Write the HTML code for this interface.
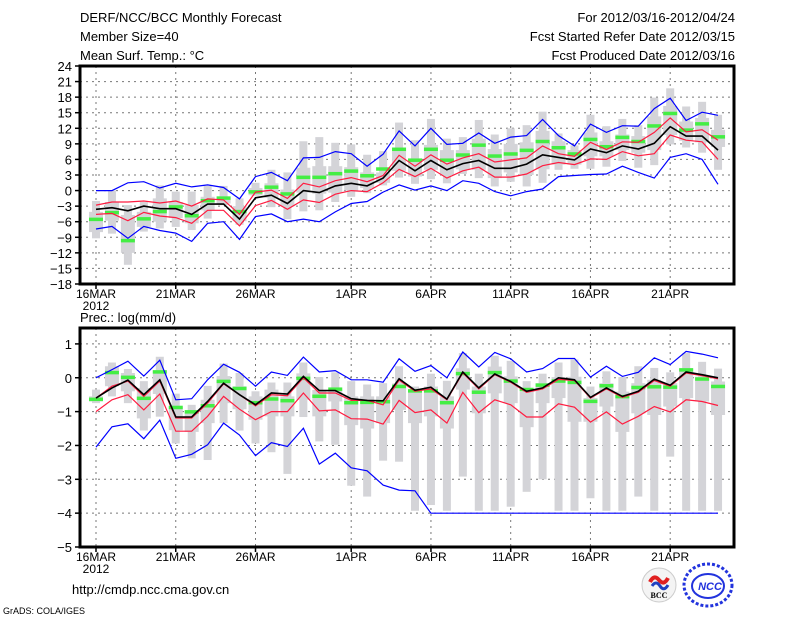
<!DOCTYPE html>
<html><head><meta charset="utf-8"><style>
html,body{margin:0;padding:0;background:#fff;}
svg{display:block;font-family:"Liberation Sans",sans-serif;}
</style></head><body>
<svg id="chart" width="800" height="618" xmlns="http://www.w3.org/2000/svg">
<rect width="800" height="618" fill="#fff"/>
<g font-size="13" fill="#000">
<text x="80" y="22">DERF/NCC/BCC Monthly Forecast</text>
<text x="80" y="41">Member Size=40</text>
<text x="80" y="60">Mean Surf. Temp.: °C</text>
<text x="735" y="22" text-anchor="end">For 2012/03/16-2012/04/24</text>
<text x="735" y="41" text-anchor="end">Fcst Started Refer Date 2012/03/15</text>
<text x="735" y="60" text-anchor="end">Fcst Produced Date 2012/03/16</text>
<text x="80" y="322">Prec.: log(mm/d)</text>
<text x="72" y="594">http://cmdp.ncc.cma.gov.cn</text>
<text x="3" y="614" font-size="9">GrADS: COLA/IGES</text>
</g>
<g>
<circle cx="659" cy="585" r="17" fill="#f4f4f4" stroke="#ccc"/>
<path d="M650 582 q4 -8 9 -2 q5 6 9 -2" stroke="#e02020" stroke-width="4" fill="none"/>
<path d="M652 586 q4 -6 8 0 q4 6 8 -1" stroke="#2040c0" stroke-width="3" fill="none"/>
<text x="659" y="598" font-size="8" text-anchor="middle" font-family="Liberation Serif" font-weight="bold">BCC</text>
</g>
<g>
<ellipse cx="708" cy="585" rx="24" ry="21" fill="none" stroke="#2233dd" stroke-width="3" stroke-dasharray="3 2"/>
<ellipse cx="708" cy="586" rx="16" ry="12" fill="none" stroke="#2233dd" stroke-width="2"/>
<text x="710" y="590" font-size="11" text-anchor="middle" font-weight="bold" fill="#2233dd" font-style="italic">NCC</text>
</g>
<g id="top"></g>
<g id="bot"></g>
</svg>
<script>
// ---- Top panel data (temperature, °C), days 16MAR..24APR ----
const tWMax=[-2,0,-2.8,-2.2,1,-0.2,-0.2,0.9,0.9,-1.5,1.5,4,3.5,9.5,10.3,9.2,8.9,6.9,7.6,13.1,9.7,13.8,10,10.3,13.6,10.8,12,12.6,15.2,11,8.7,14.6,12.4,13.8,12.6,17.9,19.7,16.2,17.1,14.6];
const tWMin=[-9.2,-8.3,-14.3,-7.9,-7.3,-7,-7.6,-5.4,-2.8,-6.6,-1,-3.2,-5.5,-4,-3.8,-2.2,-1.2,-0.5,1,2.5,1.3,2.2,1.4,3.2,2.4,0.8,1.7,0.8,1.5,4,4.2,4.2,4.6,5.7,4.4,4.9,8.9,8.3,7.3,4];
const tQ3=[-4.1,-2.2,-4.7,-4.1,-1.5,-2.2,-2.8,-1.2,-1.5,-3,0.5,1.4,0.2,4.4,4.7,4.7,4.5,3.5,3.5,8.3,6.2,8.8,7.8,7.8,10,8,9,9.3,11.5,9.5,7.8,11.2,9.5,10.8,10.5,14.3,16.3,13.3,14,11.7];
const tQ1=[-8,-5.8,-12,-7,-6,-5.3,-6.3,-3.8,-2.5,-5.9,-0.9,-1.4,-3,-0.4,-0.6,-0.4,0,0.5,1.5,3.8,2.7,4,3,4.1,4,2.4,3.5,3,4.1,5,5,6.6,6.6,7.8,7.3,7.8,10.7,9.6,9.3,8.4];
const tGreen=[-5.5,-4.2,-9.6,-5.4,-4,-3.1,-4.8,-1.9,-1.4,-4,-0.2,0.7,-0.6,2.6,2.6,3.3,3.8,2.9,4.2,8,5.9,8,5.9,6.9,8.8,6.7,7.1,7.8,9.5,8.3,7.1,9.9,8.5,10.3,9.5,12.5,14.9,11.7,12.9,10.4];
const tBlack=[-3.6,-3.3,-3.9,-3,-3.5,-3.5,-4.6,-2.6,-2.6,-5.5,-1.4,-0.9,-2.5,0,-0.4,0.9,1.4,0.9,2.4,5.8,3.8,5.8,4,5.2,5.8,4.3,4.3,5.1,6.9,6.4,5.9,8,7.3,8.6,8,9.1,12.3,10.5,10.5,7.8];
const tRedHi=[-2.8,-2.2,-2.2,-2,-2.4,-2,-3,-1.6,-1.8,-4.6,-0.3,0.1,-1.5,1.4,0.7,1.9,2.5,1.7,2.9,6.8,4.7,6.9,5.1,6.3,7.1,5.5,5.9,6.3,8.6,7.1,6.6,9.3,7.9,9.4,9.3,11.2,14,11.3,11.7,9.7];
const tRedLo=[-4.6,-4.4,-5.8,-4.2,-4.9,-5.2,-6.3,-3.8,-3.8,-6.8,-2.9,-1.9,-3.6,-1.8,-2.3,-0.7,0,-0.2,1.5,4.1,2.7,4.3,2.4,3.8,4.5,2.6,2.6,3.2,4.8,5.4,5,6.1,6,7.5,6.7,7.1,10.7,9.7,9.4,6];
const tBlueHi=[0,0,1.5,1.7,0.5,1.4,0.7,1.1,0.6,-1.6,2.7,3.5,1.9,6.3,6.4,7.5,7.1,4.7,7,11.5,8.6,12,8.9,9.1,11.1,9.1,10.3,10.6,13.7,10.6,8.6,12.8,11.2,12.5,12.4,15.8,17.8,13.5,15.1,14.5];
const tBlueLo=[-7.4,-6.9,-9.2,-6.9,-7.7,-8.2,-9.8,-6.3,-6,-9.4,-5,-4.5,-6,-5.5,-6,-4.1,-2.5,-2.1,-0.3,1.1,0.1,0.9,0,1.9,1.4,-0.2,-1,-0.2,0.3,2.7,2.9,3.1,3.2,4.7,3.5,2.4,6.4,7.1,6,1.2];
const tTicks=[24,21,18,15,12,9,6,3,0,-3,-6,-9,-12,-15,-18];
// ---- Bottom panel data (precip, log mm/d) ----
const bWMax=[-0.35,0.45,0.26,-0.1,0.62,-0.47,-0.8,-0.24,0.42,0.14,-0.4,-0.14,-0.14,0.45,0.02,0.16,-0.1,-0.2,-0.16,0.34,-0.26,0.12,-0.09,0.73,0.12,0.65,0.5,-0.1,0.12,0.45,0.54,-0.26,0.19,0.02,0.34,0.29,0.16,0.73,0.47,0.27];
const bWMin=[-0.75,-0.55,-0.75,-1.56,-1.15,-1.94,-2.38,-2.43,-1.34,-1.56,-1.94,-2.2,-2.84,-1.16,-1.88,-1.98,-3.19,-3.51,-2.45,-2.48,-3.93,-3.76,-3.93,-2.92,-3.93,-3.93,-3.81,-3.37,-3,-3.93,-3.93,-3.56,-3.93,-3.93,-3.51,-3.93,-2.33,-3.93,-3.93,-3.93];
const bQ3=[-0.55,0.34,0.14,-0.3,0.22,-0.85,-1.05,-0.65,0.05,-0.25,-0.55,-0.35,-0.55,0.13,-0.36,-0.36,-0.55,-0.55,-0.55,-0.17,-0.35,-0.26,-0.55,0.28,-0.26,0.33,0.04,-0.41,-0.16,0.02,0.03,-0.6,-0.16,-0.41,-0.16,-0.06,-0.16,0.28,0.03,-0.11];
const bQ1=[-0.7,-0.25,-0.4,-1.2,-0.48,-1.55,-1.6,-1.34,-0.75,-0.93,-1.24,-1.14,-1.14,-0.65,-1.14,-0.7,-1.4,-1.5,-1.34,-0.95,-1.34,-1.14,-1.5,-0.35,-1.05,-0.46,-0.75,-1.46,-0.75,-0.6,-1.3,-1.3,-0.85,-1.6,-1.05,-1.1,-0.85,-0.6,-0.7,-1.1];
const bGreen=[-0.63,0.16,0.02,-0.6,0.18,-0.87,-1,-0.82,-0.1,-0.31,-0.73,-0.62,-0.67,-0.01,-0.54,-0.33,-0.73,-0.72,-0.7,-0.25,-0.38,-0.38,-0.73,0.13,-0.42,0.16,-0.09,-0.34,-0.21,-0.09,-0.13,-0.69,-0.23,-0.55,-0.28,-0.26,-0.27,0.24,-0.03,-0.25];
const bBlack=[-0.6,-0.3,-0.07,-0.5,-0.06,-1.16,-1.16,-0.7,-0.16,-0.5,-0.8,-0.45,-0.48,0.04,-0.38,-0.38,-0.62,-0.67,-0.68,-0.03,-0.37,-0.28,-0.63,0.17,-0.3,0.11,-0.11,-0.4,-0.3,0,-0.06,-0.58,-0.3,-0.55,-0.4,-0.04,-0.22,0.17,0.09,0];
const bRedHi=[-0.6,-0.25,-0.1,-0.55,-0.1,-1.19,-1.19,-0.75,-0.18,-0.5,-0.83,-0.5,-0.53,0,-0.45,-0.45,-0.67,-0.67,-0.8,-0.07,-0.4,-0.33,-0.65,0.14,-0.33,0.09,-0.13,-0.43,-0.33,-0.05,-0.08,-0.6,-0.33,-0.58,-0.43,-0.08,-0.25,0.14,0.06,-0.03];
const bRedLo=[-1,-0.65,-0.5,-0.95,-0.48,-1.58,-1.58,-1.14,-0.55,-0.93,-1.24,-1,-1,-0.45,-0.98,-0.95,-1.21,-1.22,-1.37,-0.67,-1.03,-0.95,-1.34,-0.43,-1.03,-0.65,-0.8,-1.16,-1.16,-0.77,-0.87,-1.31,-1.01,-1.37,-1.14,-0.85,-1.01,-0.65,-0.7,-0.82];
const bBlueHi=[0,0.24,0.49,0.05,0.52,-0.65,-0.62,-0.06,0.4,0.16,-0.25,0.17,0.07,0.61,0.17,0.21,-0.06,-0.06,-0.13,0.56,0.19,0.36,0,0.76,0.32,0.75,0.56,0.17,0.27,0.57,0.57,0.02,0.34,0.04,0.16,0.59,0.39,0.78,0.7,0.59];
const bBlueLo=[-2.05,-1.45,-1.36,-1.8,-1.25,-2.38,-2.26,-1.98,-1.34,-1.69,-2.3,-1.92,-2.03,-1.49,-2.55,-2.23,-2.66,-2.75,-3.17,-3.32,-3.34,-4,-4,-4,-4,-4,-4,-4,-4,-4,-4,-4,-4,-4,-4,-4,-4,-4,-4,-4];
const bTicks=[1,0,-1,-2,-3,-4,-5];
const dateLabels=["16MAR","21MAR","26MAR","1APR","6APR","11APR","16APR","21APR"];
const dateDays=[0,5,10,16,21,26,31,36];

const NS="http://www.w3.org/2000/svg";
function mk(parent,tag,attrs){const e=document.createElementNS(NS,tag);for(const k in attrs)e.setAttribute(k,attrs[k]);parent.appendChild(e);return e;}
const X0=80,X1=734;
function xOf(d){return 96+15.95*d;}

function panel(g,name,top,bot,vTop,vBot,ticks,d){
  const yOf=v=>top+(vTop-v)/(vTop-vBot)*(bot-top);
  // grid
  ticks.forEach(t=>{
    const y=yOf(t);
    if(y>top+1&&y<bot-1){const l=mk(g,'line',{x1:X0,x2:X1,y1:y,y2:y,stroke:'#777','stroke-width':1,'stroke-dasharray':'2 4'});
    
    }
    const tk=mk(g,'line',{x1:X0-5,x2:X0,y1:y,y2:y,stroke:'#000','stroke-width':1.5});
    
    
    const tx=mk(g,'text',{x:X0-8,y:y+5,'text-anchor':'end','font-size':13});
    tx.textContent=String(t).replace('-','\u2212');
    
    
  });
  dateDays.forEach((dd,i)=>{
    const x=xOf(dd);
    const l=mk(g,'line',{x1:x,x2:x,y1:top,y2:bot,stroke:'#777','stroke-width':1,'stroke-dasharray':'2 4'});
    
    
    const tk=mk(g,'line',{x1:x,x2:x,y1:bot,y2:bot+5,stroke:'#000','stroke-width':1.5});
    
    
    const tx=mk(g,'text',{x:x,y:bot+14,'text-anchor':'middle','font-size':12});
    tx.textContent=dateLabels[i];
    
    
  });
  const yr=mk(g,'text',{x:xOf(0),y:bot+26,'text-anchor':'middle','font-size':12});
  yr.textContent='2012';
  
  
  // boxes
  d.wmax.forEach((v,i)=>{
    const x=xOf(i);
    const w=mk(g,'rect',{x:x-4,y:yOf(v),width:8,height:yOf(d.wmin[i])-yOf(v),fill:'#d4d4d8'});
    
    
    const b=mk(g,'rect',{x:x-7,y:yOf(d.q3[i]),width:14,height:yOf(d.q1[i])-yOf(d.q3[i]),fill:'#d4d4d8'});
    
    
  });
  d.green.forEach((v,i)=>{
    const r=mk(g,'rect',{x:xOf(i)-7,y:yOf(v)-1.5,width:14,height:3.5,fill:'#44ee44'});
    
    
  });
  const series=[['blue-max',d.blueHi,'#0000ff'],['blue-min',d.blueLo,'#0000ff'],['red-upper',d.redHi,'#ff1c40'],['red-lower',d.redLo,'#ff1c40'],['ensemble-mean',d.black,'#000']];
  series.forEach(s=>{
    const p=mk(g,'polyline',{points:s[1].map((v,i)=>xOf(i).toFixed(1)+','+yOf(v).toFixed(1)).join(' '),fill:'none',stroke:s[2],'stroke-width':s[0]==='ensemble-mean'?1.6:1.2});
    
    
  });
  const f=mk(g,'rect',{x:X0,y:top,width:X1-X0,height:bot-top,fill:'none',stroke:'#000','stroke-width':3});
  
  
}
panel(document.getElementById('top'),'temp',66,284,24,-18,tTicks,{wmax:tWMax,wmin:tWMin,q3:tQ3,q1:tQ1,green:tGreen,black:tBlack,redHi:tRedHi,redLo:tRedLo,blueHi:tBlueHi,blueLo:tBlueLo});
panel(document.getElementById('bot'),'prec',328,547,1.47,-5,bTicks,{wmax:bWMax,wmin:bWMin,q3:bQ3,q1:bQ1,green:bGreen,black:bBlack,redHi:bRedHi,redLo:bRedLo,blueHi:bBlueHi,blueLo:bBlueLo});
</script>
</body></html>
